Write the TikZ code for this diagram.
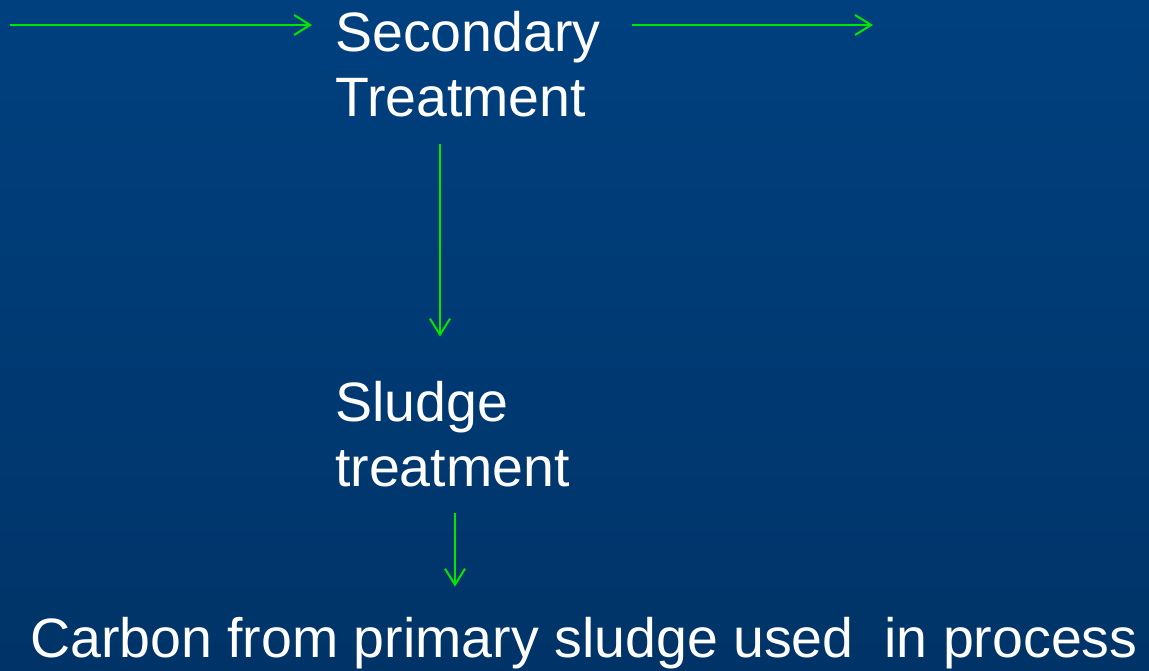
\documentclass[tikz,border=0pt]{standalone}
\usepackage{fontspec}
\setmainfont{Liberation Sans}
\usetikzlibrary{arrows.meta}
\definecolor{bgtop}{RGB}{0,64,127}
\definecolor{bgbot}{RGB}{0,52,104}
\definecolor{flowgreen}{RGB}{0,230,0}
\tikzset{
    lbl/.style={text=white, inner sep=0pt, align=left, font=\fontsize{55.5}{65}\selectfont},
    flow/.style={flowgreen, line width=2pt, -{Straight Barb[length=16pt, width=20pt, line width=2pt]}}
}
\begin{document}
\begin{tikzpicture}[x=1pt, y=1pt]
    % background
    \shade[top color=bgtop, bottom color=bgbot] (0,0) rectangle (1149,670);
    \useasboundingbox (0,0) rectangle (1149,670);

    % labels
    \node[lbl, anchor=base west] (sec) at (335,553) {Secondary\\Treatment};
    \node[lbl, anchor=base west] (sludge) at (335,183) {Sludge\\treatment};
    \node[lbl, anchor=base west] (carbon) at (30,13) {Carbon from primary sludge used\ \ in process};

    % free ends
    \coordinate (in) at (10,645);
    \coordinate (out) at (873,645);

    % flows
    \draw[flow] (in) -- ([xshift=-23pt]in -| sec.west);
    \draw[flow] ([xshift=31pt]out -| sec.east) -- (out);
    \draw[flow] ([xshift=105pt, yshift=-26pt]sec.south west) -- ([xshift=105pt, yshift=45pt]sludge.north west);
    \draw[flow] ([xshift=120pt, yshift=-25pt]sludge.south west) -- ([xshift=120pt, yshift=30pt]sludge.south west |- carbon.north);
\end{tikzpicture}
\end{document}
